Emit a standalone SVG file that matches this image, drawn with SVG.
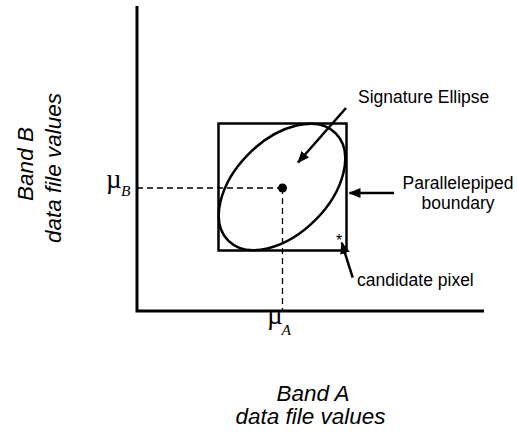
<svg xmlns="http://www.w3.org/2000/svg" width="517" height="432" viewBox="0 0 517 432">
<defs>
<style>
.ax{stroke:#000;stroke-width:3;fill:none}
.sh{stroke:#000;stroke-width:2.5;fill:none}
.dash{stroke:#000;stroke-width:1.3;stroke-dasharray:6,4;fill:none}
.arr{stroke:#000;stroke-width:2.5;fill:none;marker-end:url(#ah)}
.lbl{font-family:"Liberation Sans",Arial,sans-serif;font-size:17.5px;fill:#000}
.axl{font-family:"Liberation Sans",Arial,sans-serif;font-size:22.5px;font-style:italic;fill:#000;text-anchor:middle}
.mu{font-family:"Liberation Serif","Times New Roman",serif;font-size:27px;fill:#000}
.sub{font-family:"Liberation Serif","Times New Roman",serif;font-size:15.5px;font-style:italic;fill:#000}
</style>
<marker id="ah" markerUnits="userSpaceOnUse" markerWidth="12" markerHeight="10" refX="11" refY="5" orient="auto">
<path d="M0,0 L12,5 L0,10 z" fill="#000"/>
</marker>
</defs>
<rect width="517" height="432" fill="#fff"/>
<g id="axes">
<polyline class="ax" points="137,6 137,311 484,311"/>
</g>
<g id="parallelepiped">
<rect class="sh" x="218.5" y="123.5" width="128" height="127"/>
</g>
<g id="ellipse">
<ellipse class="sh" cx="282" cy="187" rx="76" ry="47" transform="rotate(-45 282 187)"/>
</g>
<g id="mean">
<circle cx="282.5" cy="188" r="4.5" fill="#000"/>
</g>
<g id="connectors">
<line class="dash" x1="137" y1="188" x2="282" y2="188"/>
<line class="dash" x1="282.5" y1="188" x2="282.5" y2="311"/>
<line class="arr" x1="346" y1="108" x2="298" y2="162.5"/>
<line class="arr" x1="394" y1="193" x2="349.5" y2="193"/>
<line class="arr" x1="352.7" y1="277.7" x2="341.7" y2="242.7"/>
</g>
<g id="candidate">
<text x="339" y="245.5" font-family="Liberation Sans, Arial, sans-serif" font-size="16" text-anchor="middle">*</text>
</g>
<g id="labels">
<text class="lbl" x="358" y="102.5">Signature Ellipse</text>
<text class="lbl" x="458" y="189" text-anchor="middle">Parallelepiped</text>
<text class="lbl" x="458" y="209" text-anchor="middle">boundary</text>
<text class="lbl" x="357" y="286">candidate pixel</text>
<text class="mu" x="106" y="187.5">µ</text>
<text class="sub" x="121" y="196">B</text>
<text class="mu" x="267" y="324">µ</text>
<text class="sub" x="281.5" y="334.5">A</text>
<text class="axl" x="313" y="401">Band A</text>
<text class="axl" x="310.5" y="424">data file values</text>
<text class="axl" transform="translate(33,164) rotate(-90)">Band B</text>
<text class="axl" transform="translate(61,168) rotate(-90)">data file values</text>
</g>
</svg>
